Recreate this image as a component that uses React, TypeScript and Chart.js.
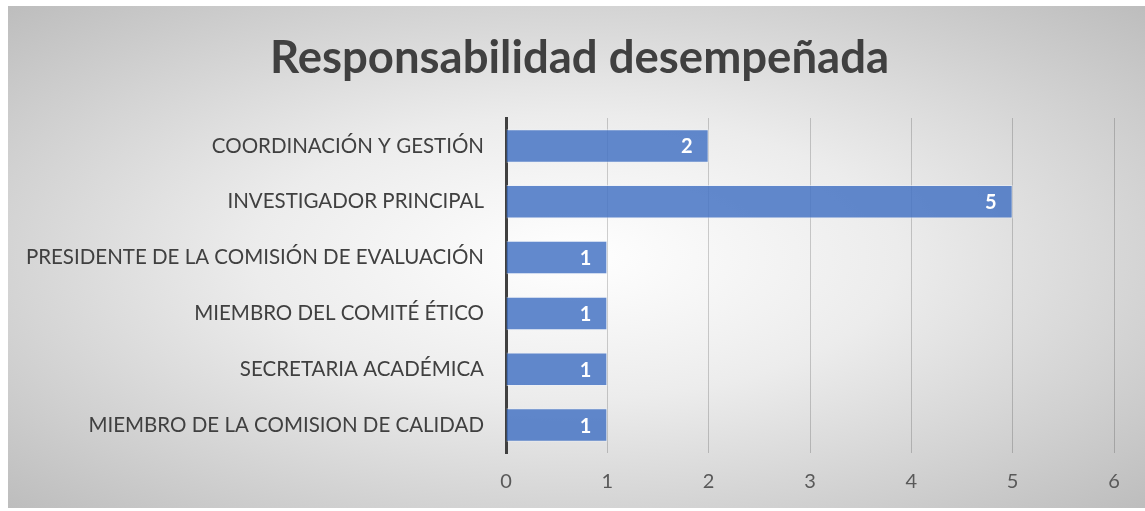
import React, { useEffect, useRef } from "react";
import { Chart, registerables } from "chart.js";

Chart.register(...registerables);

const categories: string[] = [
  "COORDINACIÓN Y GESTIÓN",
  "INVESTIGADOR PRINCIPAL",
  "PRESIDENTE DE LA COMISIÓN DE EVALUACIÓN",
  "MIEMBRO DEL COMITÉ ÉTICO",
  "SECRETARIA ACADÉMICA",
  "MIEMBRO DE LA COMISION DE CALIDAD",
];
const values: number[] = [2, 5, 1, 1, 1, 1];
const xTicks: number[] = [0, 1, 2, 3, 4, 5, 6];
const titleText = "Responsabilidad desempeñada";

const FONT = "Lato, 'Open Sans', sans-serif";

const dataLabels = {
  id: "dataLabels",
  afterDatasetsDraw(chart: any) {
    const ctx = chart.ctx;
    const meta = chart.getDatasetMeta(0);
    ctx.save();
    ctx.fillStyle = "#ffffff";
    ctx.font = `bold 20px ${FONT}`;
    ctx.textAlign = "right";
    ctx.textBaseline = "middle";
    meta.data.forEach((bar: any, i: number) => {
      ctx.fillText(String(values[i]), bar.x - 16, bar.y + 1);
    });
    ctx.restore();
  },
};

const chartTitle = {
  id: "chartTitle",
  afterDraw(chart: any) {
    const ctx = chart.ctx;
    ctx.save();
    ctx.fillStyle = "#404040";
    ctx.font = `bold 45.5px ${FONT}`;
    ctx.textAlign = "center";
    ctx.textBaseline = "middle";
    ctx.fillText(titleText, chart.width / 2 + 3, 52);
    ctx.restore();
  },
};

export default function App() {
  const ref = useRef<HTMLCanvasElement | null>(null);
  useEffect(() => {
    if (!ref.current) return;
    const chart = new Chart(ref.current, {
      type: "bar",
      data: {
        labels: categories,
        datasets: [
          {
            data: values,
            backgroundColor: "rgba(68,114,196,0.84)",
            borderColor: "rgba(235,240,250,0.6)",
            borderWidth: 1,
            categoryPercentage: 0.6,
            barPercentage: 1,
          },
        ],
      },
      options: {
        indexAxis: "y",
        responsive: true,
        maintainAspectRatio: false,
        animation: false,
        layout: { padding: { left: 0, right: 31, top: 112, bottom: 0 } },
        plugins: {
          legend: { display: false },
          tooltip: { enabled: false },
          title: { display: false },
        },
        scales: {
          x: {
            min: 0,
            max: 6,
            afterBuildTicks: (scale: any) => {
              scale.ticks = xTicks.map((v) => ({ value: v }));
            },
            afterFit: (scale: any) => {
              scale.height = 55;
            },
            grid: {
              color: "rgba(0,0,0,0.18)",
              lineWidth: 1,
              drawTicks: false,
            },
            border: { display: false },
            ticks: {
              color: "#595959",
              font: { family: FONT, size: 20 },
              padding: 17,
            },
          },
          y: {
            afterFit: (scale: any) => {
              scale.width = 498;
            },
            grid: { display: false, drawTicks: false },
            border: { display: true, color: "#404040", width: 3 },
            ticks: {
              color: "#404040",
              font: { family: FONT, size: 20.5 },
              padding: 22,
            },
          },
        },
      },
      plugins: [dataLabels, chartTitle],
    } as any);
    return () => chart.destroy();
  }, []);

  return (
    <div
      style={{
        position: "absolute",
        left: 8,
        top: 6,
        width: 1137,
        height: 502,
        background:
          "radial-gradient(ellipse farthest-corner at 50% 50%, #ffffff 0%, #ececec 40%, #bdbdbd 100%)",
      }}
    >
      <canvas ref={ref} />
    </div>
  );
}
